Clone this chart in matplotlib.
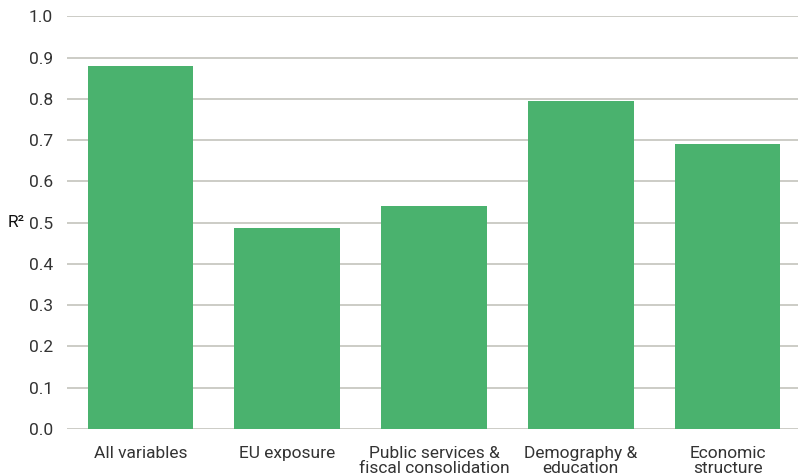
import matplotlib.pyplot as plt
import numpy as np

categories = ['All variables', 'EU exposure', 'Public services &\nfiscal consolidation',
              'Demography &\neducation', 'Economic\nstructure']
r2_values = [0.88, 0.487, 0.54, 0.794, 0.69]
yticks = [0.0, 0.1, 0.2, 0.3, 0.4, 0.5, 0.6, 0.7, 0.8, 0.9, 1.0]

plt.rcParams['font.family'] = ['Roboto', 'DejaVu Sans']

fig = plt.figure(figsize=(7.98, 4.75), dpi=100)
ax = fig.add_axes([0.084, 0.0968, 0.916, 0.869])

x = np.arange(len(categories))
ax.bar(x, r2_values, width=0.72, color='#4ab26e', zorder=2)

ax.set_ylim(0, 1.0)
ax.set_xlim(-0.5, 4.48)
ax.set_yticks(yticks)
ax.set_yticklabels([f'{v:.1f}' for v in yticks], fontsize=12.5, color='#333333')
ax.set_xticks(x)
ax.set_xticklabels(categories, fontsize=12.5, color='#333333', linespacing=0.95)
ax.tick_params(axis='both', length=0)
ax.tick_params(axis='y', pad=10)
ax.tick_params(axis='x', pad=12.5)
for v in yticks:
    ax.axhline(v, color='#c4c4bc', linewidth=1.2, zorder=1)
for s in ax.spines.values():
    s.set_visible(False)

fig.text(0.010, 0.532, 'R²', fontsize=12.5, color='#111111', va='center')

plt.savefig('out.png', dpi=100)
